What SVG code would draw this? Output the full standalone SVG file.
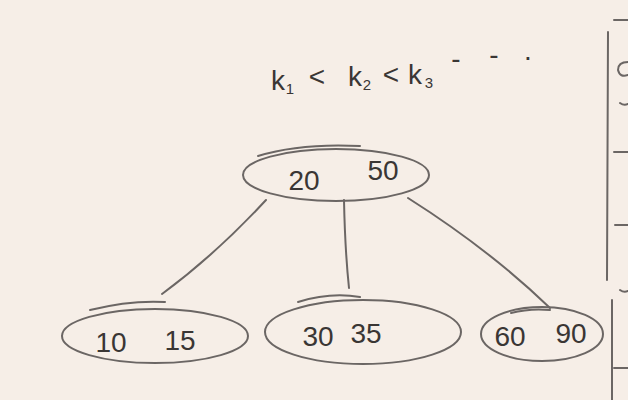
<svg xmlns="http://www.w3.org/2000/svg" width="628" height="400" viewBox="0 0 628 400">
<style>
.s{fill:none;stroke:#6b6664;stroke-width:2;stroke-linecap:round}
.t{font-family:"Liberation Sans",Arial,sans-serif;font-size:28px;fill:#3a3634;text-anchor:middle}
.k{font-family:"Liberation Sans",Arial,sans-serif;font-size:28px;fill:#3a3634;text-anchor:middle}
.sub{font-family:"Liberation Sans",Arial,sans-serif;font-size:15px;fill:#3a3634;text-anchor:middle}
</style>
<rect width="628" height="400" fill="#f6eee7"/>
<g id="formula">
<text class="k" x="278" y="90">k</text>
<text class="sub" x="290" y="94">1</text>
<text class="k" x="317" y="86">&lt;</text>
<text class="k" x="355" y="86">k</text>
<text class="sub" x="367" y="90">2</text>
<text class="k" x="391" y="84">&lt;</text>
<text class="k" x="415" y="84">k</text>
<text class="sub" x="429" y="88">3</text>
<text class="k" x="456" y="68">-</text>
<text class="k" x="494" y="64">-</text>
<text class="k" x="528" y="60">.</text>
</g>
<g id="edges">
<path class="s" d="M266 200 Q215 255 162 294"/>
<path class="s" d="M344 200 Q345 250 349 288"/>
<path class="s" d="M408 198 Q490 250 550 308"/>
</g>
<g id="root">
<ellipse class="s" cx="336" cy="175" rx="93" ry="26"/>
<path class="s" d="M258 156 Q300 143 360 146"/>
<text class="t" x="304" y="190">20</text>
<text class="t" x="383" y="180">50</text>
</g>
<g id="n1">
<ellipse class="s" cx="155" cy="336" rx="93" ry="27"/>
<path class="s" d="M90 310 Q130 300 165 302"/>
<text class="t" x="111" y="352">10</text>
<text class="t" x="180" y="350">15</text>
</g>
<g id="n2">
<ellipse class="s" cx="363" cy="332" rx="98" ry="32"/>
<path class="s" d="M298 302 Q330 292 360 297"/>
<text class="t" x="318" y="346">30</text>
<text class="t" x="366" y="343">35</text>
</g>
<g id="n3">
<ellipse class="s" cx="542" cy="334" rx="61" ry="27"/>
<path class="s" d="M511 313 Q530 308 550 310"/>
<text class="t" x="510" y="346">60</text>
<text class="t" x="571" y="343">90</text>
</g>
<g id="edge-marks">
<path class="s" d="M608 32 L607 280"/>
<path class="s" d="M612 300 L612 400"/>
<path class="s" d="M614 20 L628 20"/>
<path class="s" d="M614 152 L628 152"/>
<path class="s" d="M615 225 L628 225"/>
<path class="s" d="M614 368 L628 368"/>
<path class="s" d="M628 62 Q618 62 618 70 Q620 78 628 75"/>
<path class="s" d="M620 103 Q624 106 628 104"/>
<path class="s" d="M620 290 Q624 293 628 291"/>
</g>
</svg>
